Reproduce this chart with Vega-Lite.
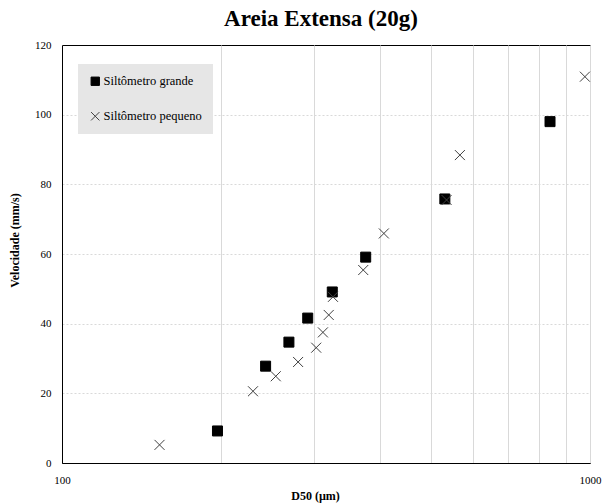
{
  "$schema": "https://vega.github.io/schema/vega-lite/v6.json",
  "width": 528,
  "height": 418,
  "autosize": "none",
  "padding": {"left": 62, "top": 45, "right": 16, "bottom": 40},
  "background": "white",
  "config": {
    "font": "Liberation Serif, Times New Roman, serif",
    "view": {"stroke": "#000000", "strokeWidth": 1}
  },
  "title": {
    "text": "Areia Extensa (20g)",
    "fontSize": 23,
    "fontWeight": "bold",
    "font": "Liberation Serif, Times New Roman, serif",
    "anchor": "middle",
    "offset": 8,
    "dx": -5,
    "color": "#000000"
  },
  "data": {
    "values": [
      {"serie": "Siltômetro grande", "d50": 197, "vel": 9.2},
      {"serie": "Siltômetro grande", "d50": 243, "vel": 27.8},
      {"serie": "Siltômetro grande", "d50": 269, "vel": 34.7},
      {"serie": "Siltômetro grande", "d50": 292, "vel": 41.6},
      {"serie": "Siltômetro grande", "d50": 325, "vel": 49.1},
      {"serie": "Siltômetro grande", "d50": 376, "vel": 59.1},
      {"serie": "Siltômetro grande", "d50": 531, "vel": 75.8},
      {"serie": "Siltômetro grande", "d50": 840, "vel": 98.0},
      {"serie": "Siltômetro pequeno", "d50": 153, "vel": 5.2},
      {"serie": "Siltômetro pequeno", "d50": 230, "vel": 20.6},
      {"serie": "Siltômetro pequeno", "d50": 254, "vel": 24.9},
      {"serie": "Siltômetro pequeno", "d50": 280, "vel": 29.0},
      {"serie": "Siltômetro pequeno", "d50": 303, "vel": 33.1},
      {"serie": "Siltômetro pequeno", "d50": 312, "vel": 37.5},
      {"serie": "Siltômetro pequeno", "d50": 320, "vel": 42.5},
      {"serie": "Siltômetro pequeno", "d50": 326, "vel": 47.7},
      {"serie": "Siltômetro pequeno", "d50": 372, "vel": 55.4},
      {"serie": "Siltômetro pequeno", "d50": 407, "vel": 65.9},
      {"serie": "Siltômetro pequeno", "d50": 535, "vel": 75.5},
      {"serie": "Siltômetro pequeno", "d50": 567, "vel": 88.4},
      {"serie": "Siltômetro pequeno", "d50": 978, "vel": 110.9}
    ]
  },
  "mark": {"type": "point", "opacity": 1, "strokeWidth": 1},
  "encoding": {
    "x": {
      "field": "d50",
      "type": "quantitative",
      "scale": {"type": "log", "domain": [100, 1000], "nice": false},
      "axis": {
        "title": "D50 (µm)",
        "values": [100, 200, 300, 400, 500, 600, 700, 800, 900, 1000],
        "labelExpr": "datum.value == 100 || datum.value == 1000 ? datum.value : ''",
        "ticks": false,
        "domain": true,
        "domainColor": "#000000",
        "grid": true,
        "gridColor": "#d9d9d9",
        "gridWidth": 1,
        "labelFont": "Liberation Serif, Times New Roman, serif",
        "labelFontSize": 11,
        "labelColor": "#000000",
        "labelPadding": 11,
        "labelFlush": false,
        "titleFont": "Liberation Serif, Times New Roman, serif",
        "titleFontSize": 12,
        "titleFontWeight": "bold",
        "titleColor": "#000000",
        "titlePadding": 5,
        "titleX": 253
      }
    },
    "y": {
      "field": "vel",
      "type": "quantitative",
      "scale": {"domain": [0, 120], "nice": false},
      "axis": {
        "title": "Velocidade (mm/s)",
        "values": [0, 20, 40, 60, 80, 100, 120],
        "ticks": false,
        "domain": true,
        "domainColor": "#000000",
        "grid": true,
        "gridColor": "#d9d9d9",
        "gridDash": [2, 2],
        "gridWidth": 1,
        "gridOpacity": {"condition": {"test": "datum.value == 120 || datum.value == 0", "value": 0}, "value": 1},
        "labelFont": "Liberation Serif, Times New Roman, serif",
        "labelFontSize": 11,
        "labelColor": "#000000",
        "labelPadding": 11,
        "titleFont": "Liberation Serif, Times New Roman, serif",
        "titleFontSize": 12,
        "titleFontWeight": "bold",
        "titleColor": "#000000",
        "titlePadding": 13,
        "titleY": 195
      }
    },
    "shape": {
      "field": "serie",
      "type": "nominal",
      "scale": {
        "domain": ["Siltômetro grande", "Siltômetro pequeno"],
        "range": ["square", "M-1,-1L1,1M-1,1L1,-1"]
      },
      "legend": {
        "title": null,
        "orient": "none",
        "legendX": 16,
        "legendY": 19,
        "fillColor": "#e6e6e6",
        "padding": 11,
        "rowPadding": 22,
        "symbolSize": 70,
        "symbolStrokeWidth": 1,
        "labelOffset": 2,
        "labelFont": "Liberation Serif, Times New Roman, serif",
        "labelFontSize": 12.5,
        "labelColor": "#000000",
        "columnPadding": 14
      }
    },
    "fill": {
      "field": "serie",
      "type": "nominal",
      "scale": {
        "domain": ["Siltômetro grande", "Siltômetro pequeno"],
        "range": ["#000000", "transparent"]
      },
      "legend": null
    },
    "stroke": {
      "field": "serie",
      "type": "nominal",
      "scale": {
        "domain": ["Siltômetro grande", "Siltômetro pequeno"],
        "range": ["#000000", "#404040"]
      },
      "legend": null
    },
    "size": {"value": 100}
  }
}
